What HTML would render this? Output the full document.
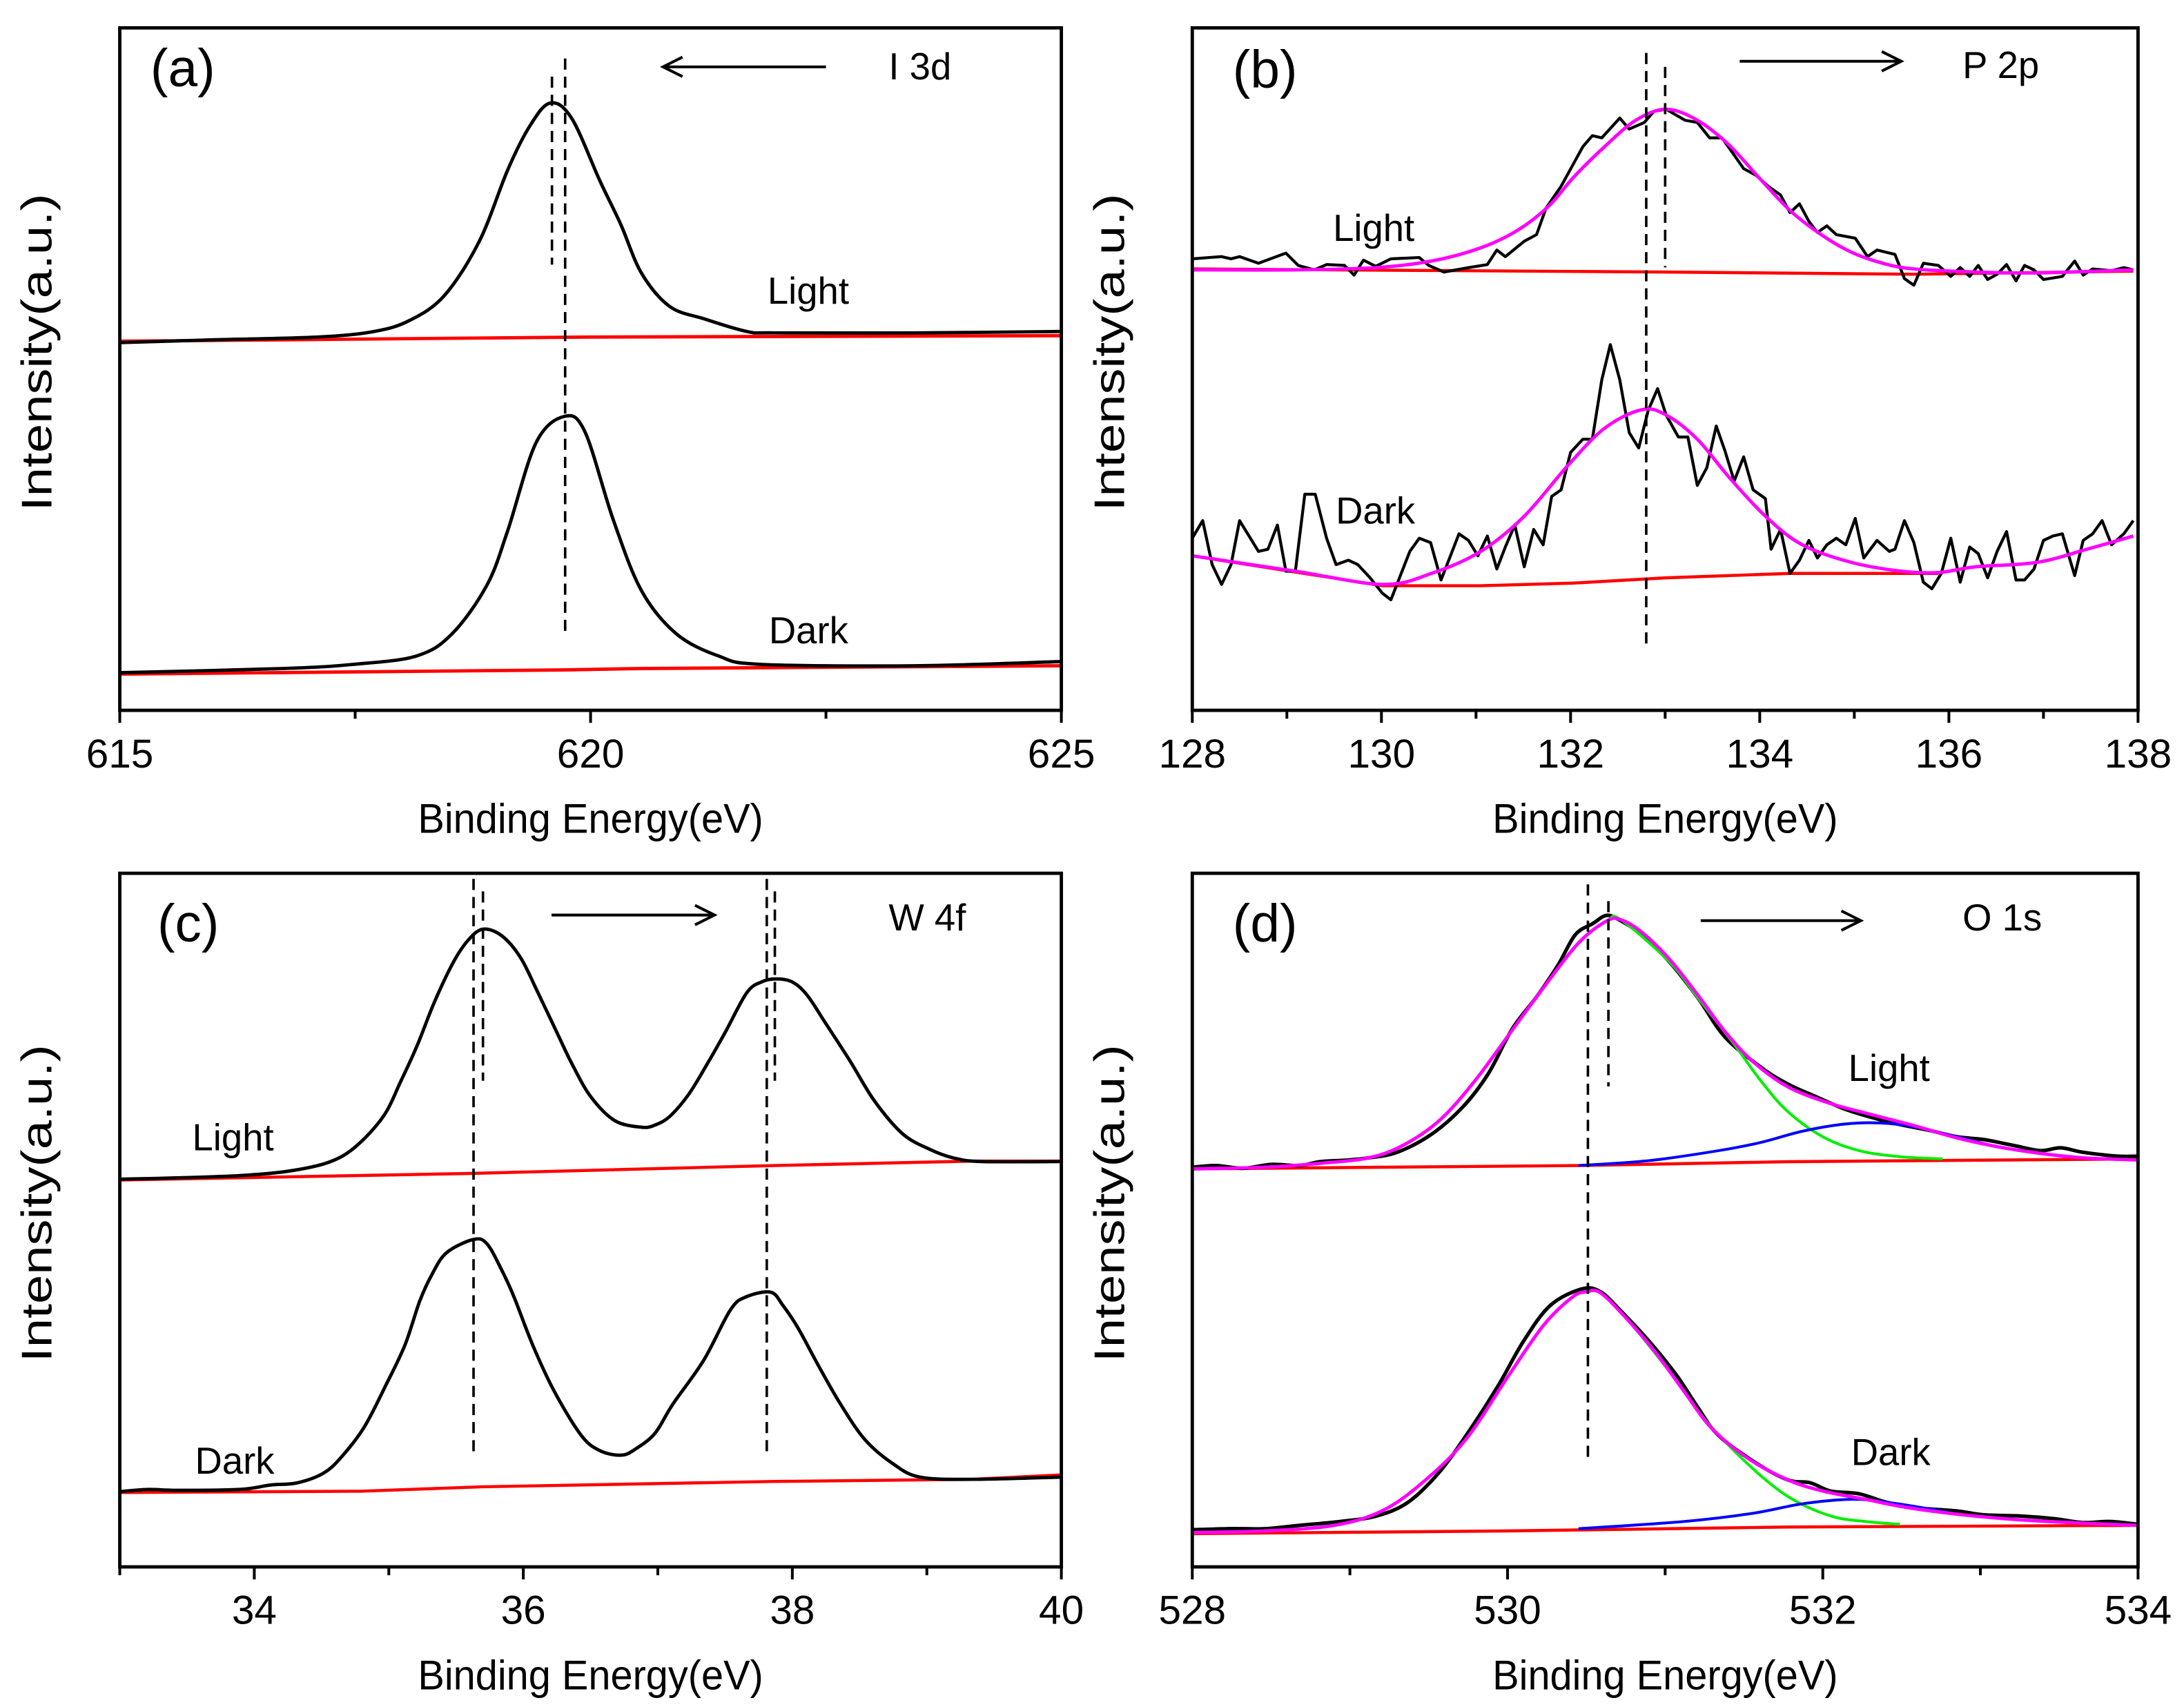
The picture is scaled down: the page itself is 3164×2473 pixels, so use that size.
<!DOCTYPE html>
<html><head><meta charset="utf-8"><title>XPS spectra</title>
<style>html,body{margin:0;padding:0;background:#fff}svg{display:block}text{font-family:"Liberation Sans",Arial,sans-serif;fill:#000}</style>
</head><body>
<svg id="fig" xmlns="http://www.w3.org/2000/svg" width="3164" height="2473" viewBox="0 0 1568 1225.6" preserveAspectRatio="none"></svg>
<script>
// ---------- Panel (a) I 3d ----------
const aLightE=[615,615.99,617.1,617.7,618.08,618.45,618.82,619.12,619.35,619.57,619.8,620.1,620.32,620.54,620.84,621.21,621.66,621.96,623.45,625];
const aLightI=[264,266,268,272,280,298,337,388,419,436,425,380,349,314,290,281,272,271,271,272];
const aLightBgE=[615,620,625];
const aLightBgI=[265,268,269];
const aDarkE=[615,616.73,617.48,618.15,618.53,618.9,619.12,619.42,619.72,619.94,620.24,620.54,620.91,621.36,621.81,623.45,625];
const aDarkI=[27,30,33,39,55,90,129,192,211,200,137,86,55,39,33,32,35];
const aDarkBgE=[615,619.7,620.5,625];
const aDarkBgI=[26,29,30,32];
const aTicks=[615,620,625];

// ---------- Panel (b) P 2p ----------
const bLightE=[128.00,128.18,128.31,128.41,128.50,128.70,128.99,129.12,129.29,129.42,129.61,129.71,129.81,129.94,130.10,130.40,130.50,130.66,130.92,131.12,131.22,131.31,131.51,131.64,131.74,131.90,132.13,132.23,132.33,132.52,132.62,132.78,132.88,133.01,133.21,133.34,133.47,133.60,133.70,133.83,133.96,134.09,134.22,134.32,134.42,134.52,134.61,134.71,134.81,135.01,135.14,135.24,135.43,135.53,135.63,135.73,135.89,136.02,136.12,136.22,136.31,136.41,136.51,136.61,136.71,136.80,136.90,137.00,137.20,137.33,137.42,137.52,137.72,137.85,137.95];
const bLightI=[104.3,104.6,104.8,104.3,104.8,103.3,105.6,102.8,101.8,103.0,102.8,100.6,104.0,102.6,104.3,104.6,102.8,101.3,102.3,103.0,106.3,104.8,108.3,109.8,115.8,120.8,129.8,132.3,131.8,136.3,133.8,135.3,137.8,138.3,135.8,135.3,131.8,131.8,128.8,124.8,123.3,120.8,118.8,114.8,116.8,112.8,110.3,111.8,109.8,109.0,104.8,106.3,105.3,99.8,98.3,103.3,102.8,100.3,102.3,100.3,102.8,99.6,100.8,103.0,99.3,102.8,101.8,99.6,100.3,103.8,100.6,102.0,101.6,102.3,101.8];
const bLightFitE=[128.00,129.09,129.94,130.53,131.05,131.44,131.77,132.03,132.36,132.69,133.01,133.34,133.67,133.99,134.32,134.65,134.97,135.30,135.63,136.28,136.93,137.95];
const bLightFitI=[101.8,101.8,102.3,103.8,106.8,110.8,116.3,122.8,129.8,135.8,138.3,135.8,130.3,122.8,115.3,109.8,105.8,103.3,102.0,101.3,101.1,101.8];
const bLightBgE=[128.00,133.01,135.63,137.95];
const bLightBgI=[102.0,101.3,100.8,101.5];
const bDarkE=[128.00,128.11,128.21,128.31,128.41,128.50,128.60,128.70,128.80,128.90,128.99,129.09,129.19,129.30,129.42,129.52,129.65,129.75,129.88,130.01,130.10,130.20,130.30,130.40,130.52,130.63,130.73,130.82,130.92,131.02,131.12,131.22,131.31,131.41,131.51,131.61,131.71,131.80,131.90,132.00,132.13,132.23,132.33,132.42,132.52,132.62,132.72,132.82,132.92,133.01,133.14,133.24,133.34,133.44,133.54,133.63,133.73,133.83,133.93,134.06,134.12,134.22,134.32,134.42,134.52,134.61,134.71,134.81,134.91,135.01,135.10,135.24,135.37,135.43,135.53,135.63,135.73,135.82,135.92,136.02,136.12,136.22,136.31,136.41,136.51,136.61,136.71,136.80,136.90,137.00,137.10,137.20,137.33,137.42,137.52,137.62,137.72,137.85,137.95];
const bDarkI=[40.8,44.8,34.8,30.3,34.8,44.8,41.3,37.8,38.3,43.8,33.3,33.3,50.8,50.8,40.8,34.8,35.8,34.8,31.8,28.3,26.8,32.3,37.8,40.8,39.8,31.3,36.8,41.8,40.3,36.8,41.3,33.8,38.8,43.8,34.3,42.8,39.3,50.3,51.8,60.3,63.3,63.3,76.8,84.8,76.8,64.8,61.3,69.8,74.8,68.8,63.8,63.8,52.8,56.8,66.3,60.8,53.8,59.3,51.8,49.8,38.3,42.8,32.8,35.8,40.3,36.3,39.3,40.8,39.3,45.3,36.3,40.3,37.8,38.3,44.8,39.8,30.8,29.3,32.8,40.8,30.8,38.8,37.3,31.8,37.8,42.3,31.3,31.3,33.8,40.3,41.3,41.8,32.3,40.3,41.8,44.8,39.3,41.8,44.8];
const bDarkFitE=[128.00,129.09,130.01,130.53,131.05,131.51,131.97,132.36,132.75,133.01,133.34,133.67,134.06,134.45,134.97,135.50,135.89,136.28,136.93,137.46,137.95];
const bDarkFitI=[36.8,33.3,30.3,32.8,37.8,45.8,57.3,65.8,70.0,68.8,63.3,54.8,45.8,39.3,35.3,33.3,33.0,34.3,35.3,38.3,41.3];
const bDarkBgE=[128.00,130.01,131.05,132.03,133.01,134.32,135.89];
const bDarkBgI=[36.8,30.0,30.0,30.6,31.8,32.8,32.8];
const bTicks=[128,130,132,134,136,138];

// ---------- Panel (c) W 4f ----------
const cLightE=[33.00,33.43,33.89,34.25,34.55,34.75,34.96,35.09,35.21,35.34,35.48,35.59,35.70,35.84,35.98,36.11,36.25,36.36,36.50,36.68,36.88,36.98,37.09,37.23,37.36,37.50,37.66,37.77,37.88,38.00,38.11,38.25,38.43,38.61,38.82,39.02,39.20,39.41,40.00];
const cLightI=[86.5,86.8,87.3,88.3,90.3,93.8,100.8,108.8,116.8,126.8,135.8,140.8,143.3,141.8,136.8,128.8,119.8,112.8,105.3,99.8,98.3,98.8,100.8,105.8,112.3,119.8,128.8,131.3,132.0,131.3,128.3,121.8,113.3,104.3,96.8,93.3,91.3,90.5,90.5];
const cLightBgE=[33.00,35.61,37.88,39.34,40.00];
const cLightBgI=[86.3,87.8,89.6,90.6,90.6];
const cDarkE=[33.00,33.21,33.43,33.89,34.12,34.32,34.52,34.66,34.82,34.98,35.12,35.23,35.32,35.43,35.63,35.73,35.84,35.93,36.07,36.23,36.43,36.57,36.73,36.84,36.98,37.11,37.34,37.54,37.66,37.84,37.93,38.04,38.20,38.36,38.54,38.75,38.95,39.34,40.00];
const cDarkI=[15.5,16.0,15.8,16.0,17.0,17.5,19.8,23.8,30.3,39.8,48.8,58.8,64.8,69.8,72.8,71.8,65.8,59.8,48.8,38.3,28.3,24.8,23.8,25.3,28.8,35.3,45.3,56.8,59.8,60.8,57.8,52.8,43.8,35.3,27.3,21.8,18.8,18.3,18.8];
const cDarkBgE=[33.00,34.80,35.70,37.84,39.34,40.00];
const cDarkBgI=[15.3,15.6,16.6,17.8,18.3,19.3];
const cTicks=[34,36,38,40];

// ---------- Panel (d) O 1s ----------
const dLightE=[528.00,528.15,528.32,528.50,528.68,528.81,528.99,529.12,529.30,529.52,529.72,529.88,530.03,530.19,530.32,530.43,530.54,530.63,530.72,530.85,531.03,531.21,531.38,531.61,531.78,531.96,532.14,532.31,532.49,532.67,532.85,533.02,533.20,533.38,533.51,533.65,533.87,534.00];
const dLightI=[97.5,97.8,97.3,98.0,97.8,98.5,98.8,99.2,100.2,103.5,108.5,114.5,122.5,128.5,134.0,139.5,141.5,143.0,142.0,139.5,134.5,128.0,121.0,115.5,112.5,110.2,108.0,106.5,105.2,104.2,103.0,102.5,101.5,100.5,101.0,100.2,99.5,99.5];
const dLightFitE=[528.00,528.46,528.81,529.12,529.34,529.57,529.79,530.01,530.23,530.45,530.63,530.72,530.85,531.03,531.21,531.38,531.56,531.78,532.05,532.31,532.58,532.85,533.11,533.38,533.65,534.00];
const dLightFitI=[97.2,97.5,98.2,99.2,101.5,106.0,113.0,121.5,130.0,138.0,142.0,142.2,140.0,135.0,128.5,122.0,116.5,112.0,109.0,107.0,105.0,102.8,101.2,100.0,99.2,98.8];
const dLightP1E=[528.00,528.46,528.81,529.12,529.34,529.57,529.79,530.01,530.23,530.45,530.63,530.72,531.03,531.21,531.43,531.61,531.78,532.00,532.23,532.49,532.76];
const dLightP1I=[97.2,97.5,98.2,99.2,101.5,106.0,113.0,121.5,130.0,138.0,142.0,142.2,134.5,128.0,120.0,113.0,107.5,103.0,100.5,99.4,99.0];
const dLightP2E=[530.45,530.90,531.34,531.61,531.87,532.14,532.36,532.58,532.85,533.11,533.38,533.65,534.00];
const dLightP2I=[97.8,98.7,100.5,102.0,104.0,105.3,105.5,104.8,103.0,101.2,100.0,99.2,98.8];
const dLightBgE=[528.00,530.45,531.78,534.00];
const dLightBgI=[97.2,97.8,98.5,99.0];
const dDarkE=[528.00,528.24,528.46,528.68,528.94,529.17,529.37,529.57,529.76,529.94,530.10,530.27,530.47,530.59,530.72,530.90,531.07,531.21,531.34,531.58,531.78,531.92,532.05,532.23,532.40,532.58,532.85,533.02,533.25,533.47,533.65,533.82,534.00];
const dDarkI=[32.0,32.2,32.2,32.8,33.5,34.5,37.0,42.5,50.0,58.0,66.0,72.5,75.5,75.0,71.5,66.0,60.0,54.0,49.0,44.0,41.0,40.5,39.0,38.5,37.0,36.0,35.4,34.7,34.5,34.0,33.3,33.5,33.0];
const dDarkFitE=[528.00,528.46,528.90,529.21,529.48,529.74,530.01,530.23,530.41,530.50,530.59,530.76,530.94,531.12,531.29,531.52,531.78,532.00,532.27,532.54,532.89,533.25,533.65,534.00];
const dDarkFitI=[31.5,31.8,32.8,35.5,41.0,48.5,60.0,69.0,74.0,75.0,74.8,70.0,64.0,57.0,50.5,45.0,41.0,39.0,37.5,36.0,34.7,33.8,33.2,32.8];
const dDarkP1E=[528.00,528.46,528.90,529.21,529.48,529.74,530.01,530.23,530.41,530.50,530.59,530.76,531.03,531.25,531.52,531.78,532.05,532.27,532.49];
const dDarkP1I=[31.5,31.8,32.8,35.5,41.0,48.5,60.0,69.0,74.0,75.0,74.8,70.0,60.5,52.0,44.0,38.0,34.5,33.5,33.0];
const dDarkP2E=[530.45,531.12,531.56,531.87,532.18,532.40,532.67,532.89,533.25,533.65,534.00];
const dDarkP2I=[32.2,33.5,35.0,36.7,37.5,37.0,35.8,34.7,33.8,33.2,32.8];
const dDarkBgE=[528.00,530.01,531.78,534.00];
const dDarkBgI=[31.3,31.8,32.5,32.8];
const dTicks=[528,530,532,534];

const NS="http://www.w3.org/2000/svg";
const svg=document.getElementById('fig');
function mk(tag,attrs,parent){const e=document.createElementNS(NS,tag);for(const k in attrs)e.setAttribute(k,attrs[k]);(parent||svg).appendChild(e);return e;}
function scale(d0,d1,r0,r1){return v=>r0+(v-d0)*(r1-r0)/(d1-d0);}
function polyD(xs,ys,X,Y){return xs.map((x,i)=>(i?'L':'M')+X(x).toFixed(2)+' '+Y(ys[i]).toFixed(2)).join(' ');}
function smoothD(xs,ys,X,Y){const p=xs.map((x,i)=>[X(x),Y(ys[i])]);let d='M'+p[0][0]+' '+p[0][1];
 for(let i=0;i<p.length-1;i++){const p0=p[Math.max(0,i-1)],p1=p[i],p2=p[i+1],p3=p[Math.min(p.length-1,i+2)];
 const c1=[p1[0]+(p2[0]-p0[0])/6,p1[1]+(p2[1]-p0[1])/6],c2=[p2[0]-(p3[0]-p1[0])/6,p2[1]-(p3[1]-p1[1])/6];
 d+=' C'+c1[0].toFixed(2)+' '+c1[1].toFixed(2)+' '+c2[0].toFixed(2)+' '+c2[1].toFixed(2)+' '+p2[0].toFixed(2)+' '+p2[1].toFixed(2);}return d;}

function panel(cfg){
 const g=mk('g',{});
 
 
 const X=scale(cfg.xd[0],cfg.xd[1],cfg.L,cfg.R), Y=scale(cfg.yd[0],cfg.yd[1],cfg.B,cfg.T);
 cfg.series.forEach(s=>{
  const p=mk('path',{d:s.smooth?smoothD(s.x,s.y,X,Y):polyD(s.x,s.y,X,Y),fill:'none',stroke:s.c,'stroke-width':s.w||2.4,'stroke-linejoin':'round'},g);
  
  
 });
 cfg.dashes.forEach((dl,i)=>{
  const l=mk('line',{x1:X(dl[0]),x2:X(dl[0]),y1:dl[1],y2:dl[2],stroke:'#000','stroke-width':1.8,'stroke-dasharray':'8,5'},g);
  
  
 });
 const f=mk('rect',{x:cfg.L,y:cfg.T,width:cfg.R-cfg.L,height:cfg.B-cfg.T,fill:'none',stroke:'#000','stroke-width':2.4},g);
 
 
 for(let v=cfg.xd[0];v<=cfg.xd[1]+1e-9;v+=cfg.minor){
  const isMaj=cfg.ticks.some(t=>Math.abs(t-v)<1e-6);
  const t=mk('line',{x1:X(v),x2:X(v),y1:cfg.B,y2:cfg.B+(isMaj?9:6),stroke:'#000','stroke-width':2},g);
  
  
 }
 cfg.ticks.forEach(v=>{
  const t=mk('text',{x:X(v),y:cfg.B+41,'font-size':29,'text-anchor':'middle'},g);t.textContent=String(v);
  
  
 });
 const xt=mk('text',{x:(cfg.L+cfg.R)/2,y:cfg.B+88,'font-size':30,'text-anchor':'middle',textLength:248,lengthAdjust:'spacingAndGlyphs'},g);xt.textContent='Binding Energy(eV)';
 
 
 const yc=(cfg.T+cfg.B)/2-12, yx=cfg.L-49;
 const yt=mk('text',{x:yx,y:yc,'font-size':31,'text-anchor':'middle',textLength:228,lengthAdjust:'spacingAndGlyphs',transform:'rotate(-90 '+yx+' '+yc+')'},g);yt.textContent='Intensity(a.u.)';
 
 
 cfg.labels.forEach(lb=>{
  const t=mk('text',{x:lb[1],y:lb[2],'font-size':lb[3]},g);t.textContent=lb[0];
  
  
 });
 const a=cfg.arrow, dir=a[1]>a[0]?1:-1;
 const ag=mk('g',{stroke:'#000','stroke-width':2,fill:'none'},g);
 
 
 mk('line',{x1:a[0],y1:a[2],x2:a[1],y2:a[2]},ag);
 mk('path',{d:'M'+(a[1]-dir*14)+' '+(a[2]-7)+' L'+a[1]+' '+a[2]+' L'+(a[1]-dir*14)+' '+(a[2]+7)},ag);
}

panel({id:'a',L:86,R:762,T:20,B:510,xd:[615,625],yd:[0,490],ticks:aTicks,minor:2.5,
 series:[{name:'light-background',x:aLightBgE,y:aLightBgI,c:'#ff0000',w:2.4},{name:'dark-background',x:aDarkBgE,y:aDarkBgI,c:'#ff0000',w:2.4},
 {name:'light-spectrum',x:aLightE,y:aLightI,c:'#000',smooth:true},{name:'dark-spectrum',x:aDarkE,y:aDarkI,c:'#000',smooth:true}],
 dashes:[[619.59,55,190],[619.73,42,458]],
 labels:[['(a)',108,62,38,'panel-label-a'],['I 3d',638,57,27,'core-level-label'],['Light',551,218,27,'light-label'],['Dark',552,462,27,'dark-label']],
 arrow:[593,476,48]});

panel({id:'b',L:856,R:1535,T:20,B:510,xd:[128,138],yd:[1.68,156.8],ticks:bTicks,minor:1,
 series:[{name:'light-background',x:bLightBgE,y:bLightBgI,c:'#ff0000',w:2.2},{name:'dark-background',x:bDarkBgE,y:bDarkBgI,c:'#ff0000',w:2.2},
 {name:'light-spectrum',x:bLightE,y:bLightI,c:'#000',w:2.1},{name:'dark-spectrum',x:bDarkE,y:bDarkI,c:'#000',w:2.1},
 {name:'light-fit',x:bLightFitE,y:bLightFitI,c:'#ff00ff',w:2.4,smooth:true},{name:'dark-fit',x:bDarkFitE,y:bDarkFitI,c:'#ff00ff',w:2.4,smooth:true}],
 dashes:[[133.0,48,192],[132.8,38,463]],
 labels:[['(b)',885,63,38,'panel-label-b'],['P 2p',1409,56,27,'core-level-label'],['Light',957,173,27,'light-label'],['Dark',959,376,27,'dark-label']],
 arrow:[1249,1365,44]});

panel({id:'c',L:86,R:762,T:627,B:1125,xd:[33,40],yd:[-1.6,156.0],ticks:cTicks,minor:1,
 series:[{name:'light-background',x:cLightBgE,y:cLightBgI,c:'#ff0000',w:2.2},{name:'dark-background',x:cDarkBgE,y:cDarkBgI,c:'#ff0000',w:2.2},
 {name:'light-spectrum',x:cLightE,y:cLightI,c:'#000',smooth:true},{name:'dark-spectrum',x:cDarkE,y:cDarkI,c:'#000',smooth:true}],
 dashes:[[35.63,631,1043],[35.70,640,776],[37.81,631,1043],[37.87,640,776]],
 labels:[['(c)',113,676,38,'panel-label-c'],['W 4f',638,668,27,'core-level-label'],['Light',138,826,27,'light-label'],['Dark',140,1058,27,'dark-label']],
 arrow:[396,513,657]});

panel({id:'d',L:856,R:1535,T:627,B:1125,xd:[528,534],yd:[25.3,150.6],ticks:dTicks,minor:1,
 series:[{name:'light-background',x:dLightBgE,y:dLightBgI,c:'#ff0000',w:2.2},{name:'dark-background',x:dDarkBgE,y:dDarkBgI,c:'#ff0000',w:2.2},
 {name:'light-spectrum',x:dLightE,y:dLightI,c:'#000',w:2.6,smooth:true},{name:'dark-spectrum',x:dDarkE,y:dDarkI,c:'#000',w:2.6,smooth:true},
 {name:'light-component-1',x:dLightP1E,y:dLightP1I,c:'#00ee00',w:2,smooth:true},{name:'light-component-2',x:dLightP2E,y:dLightP2I,c:'#0000ff',w:2,smooth:true},
 {name:'dark-component-1',x:dDarkP1E,y:dDarkP1I,c:'#00ee00',w:2,smooth:true},{name:'dark-component-2',x:dDarkP2E,y:dDarkP2I,c:'#0000ff',w:2,smooth:true},
 {name:'light-fit',x:dLightFitE,y:dLightFitI,c:'#ff00ff',w:2.4,smooth:true},{name:'dark-fit',x:dDarkFitE,y:dDarkFitI,c:'#ff00ff',w:2.4,smooth:true}],
 dashes:[[530.51,635,1051],[530.64,647,780]],
 labels:[['(d)',885,676,38,'panel-label-d'],['O 1s',1409,668,27,'core-level-label'],['Light',1327,776,27,'light-label'],['Dark',1329,1052,27,'dark-label']],
 arrow:[1221,1336,661]});
</script>
</body></html>
